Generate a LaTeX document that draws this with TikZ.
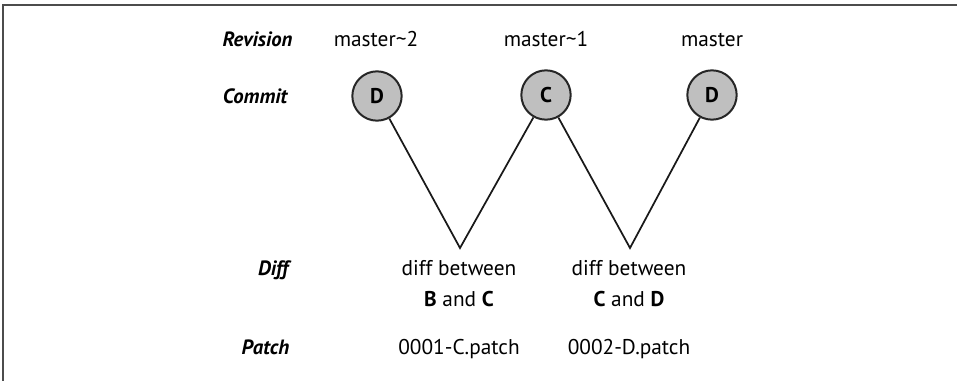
\documentclass[tikz,border=0pt]{standalone}
\usepackage{fontspec}
\setmainfont{PT Sans}
\begin{document}
\begin{tikzpicture}[x=0.75pt,y=-0.75pt,
  rowlabel/.style={anchor=base east,font=\fontsize{15.5}{18}\selectfont\itshape\bfseries},
  txt/.style={anchor=base,font=\fontsize{16}{21}\selectfont},
  commit/.style={circle,draw=black!85,line width=1.5pt,fill=black!25,minimum size=37pt,inner sep=0pt,font=\fontsize{16}{18}\selectfont\bfseries},
  link/.style={draw=black!90,line width=1.3pt},
  frameline/.style={draw=black!70,line width=1.5pt}]
\useasboundingbox (0,0) rectangle (957,381);
\draw[frameline] (3,381) -- (3,5) -- (957,5);
% row labels
\node[rowlabel] (lrev) at (297,47) {Revision};
\node[rowlabel] (lcom) at (292,104) {Commit};
\node[rowlabel] (ldiff) at (293,276) {Diff};
\node[rowlabel] (lpatch) at (294,354) {Patch};
% revisions
\node[txt] (r1) at (376,47) {master\textasciitilde 2};
\node[txt] (r2) at (546,47) {master\textasciitilde 1};
\node[txt] (r3) at (712,47) {master};
% commits
\node[commit] (c1) at (377,96) {D};
\node[commit] (c2) at (546,95) {C};
\node[commit] (c3) at (712,95) {D};
% vertices
\coordinate (v1) at (460,248);
\coordinate (v2) at (630,248);
\draw[link] (c1) -- (v1) -- (c2);
\draw[link] (c2) -- (v2) -- (c3);
% diffs
\node[txt] (d1a) at (459,276) {diff between};
\node[txt] (d1b) at (459,306) {\textbf{B} and \textbf{C}};
\node[txt] (d2a) at (629,276) {diff between};
\node[txt] (d2b) at (629,306) {\textbf{C} and \textbf{D}};
% patches
\node[txt] (p1) at (459,354) {0001-C.patch};
\node[txt] (p2) at (629,354) {0002-D.patch};
\end{tikzpicture}
\end{document}
